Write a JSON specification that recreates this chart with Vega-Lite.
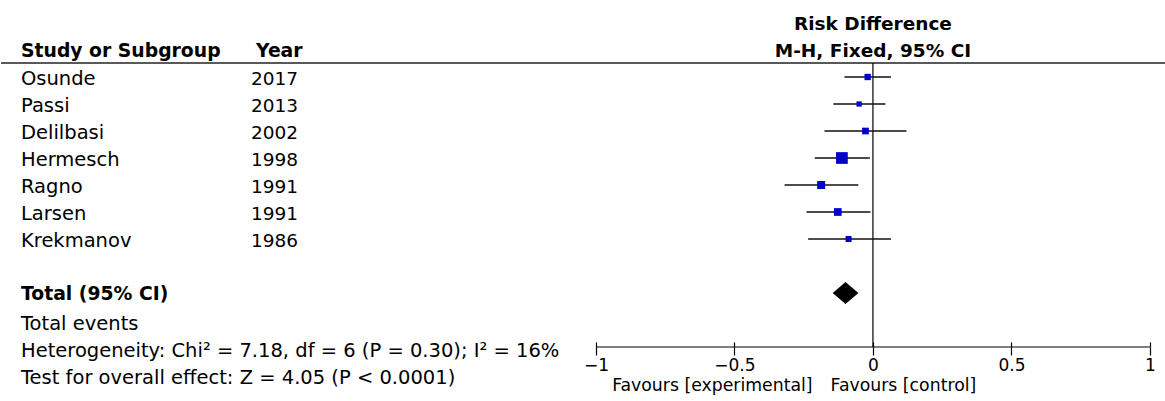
{
  "$schema": "https://vega.github.io/schema/vega-lite/v6.json",
  "padding": 0,
  "background": "white",
  "config": {
    "view": {"stroke": null},
    "font": "DejaVu Sans",
    "text": {"font": "DejaVu Sans", "fontSize": 19.5, "color": "black"}
  },
  "datasets": {
    "one": [{}],
    "studies": [
      {"study": "Osunde", "year": "2017", "row": 0, "est": -0.019, "lo": -0.103, "hi": 0.065, "weight": 9.8},
      {"study": "Passi", "year": "2013", "row": 1, "est": -0.050, "lo": -0.143, "hi": 0.045, "weight": 6.8},
      {"study": "Delilbasi", "year": "2002", "row": 2, "est": -0.027, "lo": -0.175, "hi": 0.121, "weight": 11.0},
      {"study": "Hermesch", "year": "1998", "row": 3, "est": -0.112, "lo": -0.210, "hi": -0.011, "weight": 33.5},
      {"study": "Ragno", "year": "1991", "row": 4, "est": -0.187, "lo": -0.319, "hi": -0.053, "weight": 15.6},
      {"study": "Larsen", "year": "1991", "row": 5, "est": -0.127, "lo": -0.240, "hi": -0.009, "weight": 14.5},
      {"study": "Krekmanov", "year": "1986", "row": 6, "est": -0.088, "lo": -0.234, "hi": 0.065, "weight": 8.8}
    ],
    "total": [
      {"label": "Total (95% CI)", "row": 8, "est": -0.099, "lo": -0.145, "hi": -0.053}
    ],
    "notes": [
      {"label": "Total events", "row": 9},
      {"label": "Heterogeneity: Chi² = 7.18, df = 6 (P = 0.30); I² = 16%", "row": 10},
      {"label": "Test for overall effect: Z = 4.05 (P < 0.0001)", "row": 11}
    ],
    "leftHeaders": [
      {"label": "Study or Subgroup", "col": "study", "row": -1},
      {"label": "Year", "col": "year", "row": -1}
    ],
    "rightHeaders": [
      {"label": "Risk Difference", "row": -2},
      {"label": "M-H, Fixed, 95% CI", "row": -1}
    ]
  },
  "spacing": 0,
  "bounds": "flush",
  "hconcat": [
    {
      "width": 580,
      "height": 347,
      "layer": [
        {
          "data": {"name": "one"},
          "mark": {"type": "rule", "color": "#222222", "strokeWidth": 1.5},
          "encoding": {
            "y": {"datum": -0.52, "type": "quantitative", "scale": {"domain": [-2.852, 10], "reverse": true, "nice": false, "zero": false}, "axis": null}
          }
        },
        {
          "data": {"name": "leftHeaders"},
          "mark": {"type": "text", "align": "left", "baseline": "middle", "fontWeight": "bold", "fontSize": 18.8, "dy": 1},
          "encoding": {
            "x": {"field": "col", "type": "nominal", "scale": {"type": "point", "domain": ["study", "year"], "range": [20, 255], "padding": 0}, "axis": null},
            "y": {"field": "row", "type": "quantitative", "axis": null},
            "text": {"field": "label"}
          }
        },
        {
          "data": {"name": "studies"},
          "mark": {"type": "text", "align": "left", "baseline": "middle", "dy": 2},
          "encoding": {
            "x": {"datum": "study", "type": "nominal", "axis": null},
            "y": {"field": "row", "type": "quantitative", "axis": null},
            "text": {"field": "study"}
          }
        },
        {
          "data": {"name": "studies"},
          "mark": {"type": "text", "align": "left", "baseline": "middle", "dy": 2, "dx": -5, "fontSize": 18.5},
          "encoding": {
            "x": {"datum": "year", "type": "nominal", "axis": null},
            "y": {"field": "row", "type": "quantitative", "axis": null},
            "text": {"field": "year"}
          }
        },
        {
          "data": {"name": "total"},
          "mark": {"type": "text", "align": "left", "baseline": "middle", "fontWeight": "bold", "fontSize": 18.8, "dy": 1},
          "encoding": {
            "x": {"datum": "study", "type": "nominal", "axis": null},
            "y": {"field": "row", "type": "quantitative", "axis": null},
            "text": {"field": "label"}
          }
        },
        {
          "data": {"name": "notes"},
          "mark": {"type": "text", "align": "left", "baseline": "middle", "dy": 4},
          "encoding": {
            "x": {"datum": "study", "type": "nominal", "axis": null},
            "y": {"field": "row", "type": "quantitative", "axis": null},
            "text": {"field": "label"}
          }
        }
      ]
    },
    {
      "width": 585,
      "height": 347,
      "resolve": {"axis": {"x": "independent"}},
      "layer": [
        {
          "data": {"name": "one"},
          "mark": {"type": "rule", "color": "#222222", "strokeWidth": 1.5},
          "encoding": {
            "y": {"datum": -0.52, "type": "quantitative", "scale": {"domain": [-2.852, 10], "reverse": true, "nice": false, "zero": false}, "axis": null}
          }
        },
        {
          "data": {"name": "one"},
          "mark": {"type": "rule", "color": "black", "strokeWidth": 1.2},
          "encoding": {
            "x": {"datum": -1, "type": "quantitative", "scale": {"domain": [-1.054, 1.058], "nice": false, "zero": false},
                  "axis": {"orient": "bottom", "values": [-1, -0.5, 0, 0.5, 1], "format": "~g", "tickSize": 8, "tickColor": "black", "tickWidth": 1.2, "domain": false, "grid": false, "title": null, "labelFont": "DejaVu Sans", "labelFontSize": 17, "labelColor": "black", "labelPadding": 2}},
            "x2": {"datum": 1},
            "y": {"datum": 10, "type": "quantitative", "axis": null}
          }
        },
        {
          "data": {"name": "one"},
          "mark": {"type": "rule", "color": "black", "strokeWidth": 1.2},
          "encoding": {
            "x": {"datum": 0, "type": "quantitative",
                  "axis": {"orient": "bottom", "values": [-1, -0.5, 0, 0.5, 1], "tickSize": -5, "tickColor": "black", "tickWidth": 1.2, "domain": false, "grid": false, "labels": false, "title": null}},
            "y": {"datum": -0.52, "type": "quantitative", "axis": null},
            "y2": {"datum": 10}
          }
        },
        {
          "data": {"name": "studies"},
          "mark": {"type": "rule", "color": "#111111", "strokeWidth": 1.5},
          "encoding": {
            "x": {"field": "lo", "type": "quantitative", "axis": null},
            "x2": {"field": "hi"},
            "y": {"field": "row", "type": "quantitative", "axis": null}
          }
        },
        {
          "data": {"name": "studies"},
          "mark": {"type": "point", "shape": "square", "filled": true, "color": "#0000c8", "opacity": 1},
          "encoding": {
            "x": {"field": "est", "type": "quantitative", "axis": null},
            "y": {"field": "row", "type": "quantitative", "axis": null},
            "size": {"field": "weight", "type": "quantitative", "scale": {"domain": [0, 100], "range": [0, 409]}, "legend": null}
          }
        },
        {
          "data": {"name": "total"},
          "mark": {"type": "point", "shape": "M-1,0L0,-0.856L1,0L0,0.856Z", "filled": true, "color": "black", "opacity": 1, "size": 660},
          "encoding": {
            "x": {"field": "est", "type": "quantitative", "axis": null},
            "y": {"field": "row", "type": "quantitative", "axis": null}
          }
        },
        {
          "data": {"name": "rightHeaders"},
          "mark": {"type": "text", "align": "center", "baseline": "middle", "fontWeight": "bold", "fontSize": 18.5, "dy": 1},
          "encoding": {
            "x": {"datum": 0, "type": "quantitative", "axis": null},
            "y": {"field": "row", "type": "quantitative", "axis": null},
            "text": {"field": "label"}
          }
        },
        {
          "data": {"name": "one"},
          "mark": {"type": "text", "align": "right", "baseline": "middle", "fontSize": 17.3, "text": "Favours [experimental]"},
          "encoding": {
            "x": {"datum": -0.218, "type": "quantitative", "axis": null},
            "y": {"datum": 11.45, "type": "quantitative", "axis": null}
          }
        },
        {
          "data": {"name": "one"},
          "mark": {"type": "text", "align": "left", "baseline": "middle", "fontSize": 17.3, "text": "Favours [control]"},
          "encoding": {
            "x": {"datum": -0.153, "type": "quantitative", "axis": null},
            "y": {"datum": 11.45, "type": "quantitative", "axis": null}
          }
        }
      ]
    }
  ]
}
